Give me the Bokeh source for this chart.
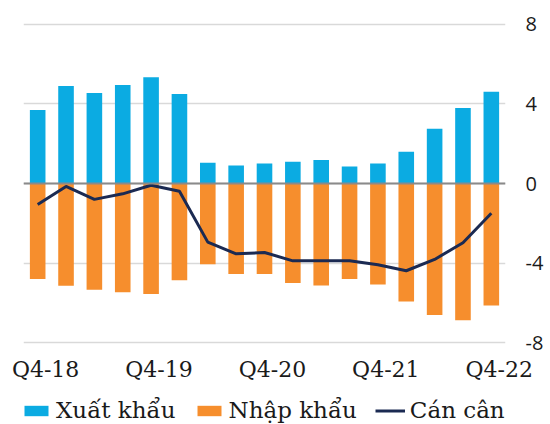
from bokeh.plotting import figure
from bokeh.models import FixedTicker, Span, Range1d, ColumnDataSource, Legend, LegendItem
from bokeh.embed import file_html
from bokeh.resources import INLINE

quarters = ["Q4-18", "Q1-19", "Q2-19", "Q3-19", "Q4-19", "Q1-20", "Q2-20", "Q3-20",
            "Q4-20", "Q1-21", "Q2-21", "Q3-21", "Q4-21", "Q1-22", "Q2-22", "Q3-22", "Q4-22"]
exports = [3.7, 4.9, 4.55, 4.95, 5.35, 4.5, 1.05, 0.9, 1.0, 1.1, 1.18, 0.85, 1.0, 1.6, 2.75, 3.8, 4.62]
imports = [-4.8, -5.15, -5.34, -5.47, -5.56, -4.87, -4.06, -4.55, -4.55, -5.0, -5.13, -4.81,
           -5.08, -5.94, -6.62, -6.88, -6.14]
balance = [-1.06, -0.15, -0.8, -0.52, -0.09, -0.39, -2.95, -3.54, -3.47, -3.89, -3.89, -3.89,
           -4.09, -4.39, -3.82, -2.98, -1.5]
y_ticks = [-8, -4, 0, 4, 8]
shown_quarters = ["Q4-18", "Q4-19", "Q4-20", "Q4-21", "Q4-22"]
series_names = ["Xuất khẩu", "Nhập khẩu", "Cán cân"]

BLUE = "#0BABE2"
ORANGE = "#F68E2D"
NAVY = "#1B2A52"
BAR_W = 0.55

xs = list(range(len(quarters)))
src = ColumnDataSource(dict(x=xs, exp=exports, imp=imports, bal=balance))

p = figure(width=550, height=384, output_backend="svg", toolbar_location=None,
           x_range=Range1d(-0.5, len(quarters) - 0.5), y_range=Range1d(-8.1, 8.1),
           y_axis_location="right", min_border_left=23, min_border_top=22,
           min_border_right=45, min_border_bottom=40)
p.outline_line_color = None
p.background_fill_color = "white"

p.vbar(x="x", top="exp", bottom=0, width=BAR_W, source=src, fill_color=BLUE, line_color=None)
p.vbar(x="x", top=0, bottom="imp", width=BAR_W, source=src, fill_color=ORANGE, line_color=None)
p.add_layout(Span(location=0, dimension="width", line_color="#8a8a8a", line_width=2))
p.line(x="x", y="bal", source=src, line_color=NAVY, line_width=3)

# axes
p.xgrid.visible = False
p.ygrid.ticker = FixedTicker(ticks=y_ticks)
p.ygrid.grid_line_color = "#d9d9d9"
p.ygrid.grid_line_width = 1.5

tick_pos = [quarters.index(q) + 0.28 for q in shown_quarters]
p.xaxis.ticker = FixedTicker(ticks=tick_pos)
p.xaxis.major_label_overrides = {t: q for t, q in zip(tick_pos, shown_quarters)}
p.yaxis.ticker = FixedTicker(ticks=y_ticks)
p.yaxis.major_label_overrides = {t: str(t) for t in y_ticks}
for ax in (p.xaxis[0], p.yaxis[0]):
    ax.axis_line_color = None
    ax.major_tick_line_color = None
    ax.minor_tick_line_color = None
    ax.major_tick_out = 0
    ax.major_tick_in = 0
    ax.major_label_text_color = "#1a1a1a"
p.xaxis.major_label_text_font = "DejaVu Serif"
p.xaxis.major_label_text_font_size = "22px"
p.xaxis.major_label_standoff = 12
p.yaxis.major_label_text_font = "Open Sans"
p.yaxis.major_label_text_font_size = "20px"
p.yaxis.major_label_standoff = 20

# legend strip: a second root whose view range keeps its proxy renderers out of sight
lg = figure(width=550, height=40, output_backend="svg", toolbar_location=None,
            x_range=Range1d(1000, 1001), y_range=Range1d(1000, 1001),
            x_axis_type=None, y_axis_type=None,
            min_border_left=0, min_border_right=0, min_border_top=0, min_border_bottom=0)
lg.outline_line_color = None
lg.xgrid.visible = False
lg.ygrid.visible = False
d_exp = lg.vbar(x="x", top="exp", bottom=0, width=BAR_W, source=src, fill_color=BLUE, line_color=None)
d_imp = lg.vbar(x="x", top=0, bottom="imp", width=BAR_W, source=src, fill_color=ORANGE, line_color=None)
d_bal = lg.line(x="x", y="bal", source=src, line_color=NAVY, line_width=3)

leg = Legend(items=[LegendItem(label=series_names[0], renderers=[d_exp]),
                    LegendItem(label=series_names[1], renderers=[d_imp]),
                    LegendItem(label=series_names[2], renderers=[d_bal])],
             orientation="horizontal", location=(21, 1))
leg.label_text_font = "DejaVu Serif"
leg.label_text_font_size = "23px"
leg.label_text_color = "#1a1a1a"
leg.glyph_width = 30
leg.glyph_height = 13
leg.label_standoff = 5
leg.spacing = 18
leg.padding = 0
leg.margin = 0
leg.border_line_color = None
leg.background_fill_alpha = 0
lg.add_layout(leg, "center")

open("out.html", "w").write(file_html([p, lg], INLINE))
